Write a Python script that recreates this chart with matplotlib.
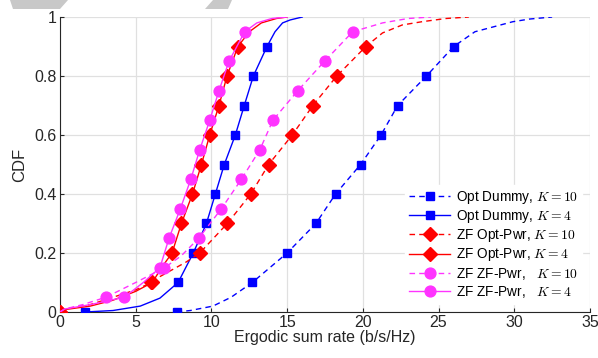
import numpy as np
import matplotlib
matplotlib.use("Agg")
import matplotlib.pyplot as plt
from matplotlib.patches import Polygon

plt.rcParams["font.family"] = ["Liberation Sans", "DejaVu Sans"]
plt.rcParams["mathtext.fontset"] = "cm"

dummy10_x = [7.7, 8.6, 10.1, 11.3, 12.7, 15.0, 16.9, 18.2, 19.85, 21.2, 22.3, 24.2, 26.0, 27.4, 29.9, 31.0, 32.5]
dummy10_y = [0.0, 0.005, 0.02, 0.05, 0.1, 0.2, 0.3, 0.4, 0.5, 0.6, 0.7, 0.8, 0.9, 0.95, 0.984, 0.993, 1.0]

dummy4_x = [1.65, 3.5, 5.3, 6.6, 7.8, 8.8, 9.67, 10.26, 10.85, 11.58, 12.17, 12.77, 13.67, 14.2, 14.7, 15.2, 16.0]
dummy4_y = [0.0, 0.005, 0.02, 0.047, 0.1, 0.2, 0.3, 0.4, 0.5, 0.6, 0.7, 0.8, 0.9, 0.95, 0.98, 0.99, 1.0]

optpwr10_x = [0.0, 0.3, 2.0, 3.5, 5.0, 6.04, 6.6, 8.35, 9.23, 11.05, 12.6, 13.78, 15.34, 16.7, 18.28, 20.2, 21.3, 22.6, 23.9, 25.5, 27.0]
optpwr10_y = [0.0, 0.01, 0.025, 0.05, 0.075, 0.1, 0.12, 0.17, 0.2, 0.3, 0.4, 0.5, 0.6, 0.7, 0.8, 0.9, 0.946, 0.973, 0.984, 0.995, 1.0]

optpwr4_x = [0.0, 0.3, 2.0, 3.5, 5.0, 6.1, 6.7, 7.4, 8.02, 8.75, 9.34, 9.89, 10.5, 11.03, 11.75, 12.5, 13.3, 14.3, 15.0]
optpwr4_y = [0.0, 0.008, 0.02, 0.04, 0.07, 0.1, 0.15, 0.2, 0.3, 0.4, 0.5, 0.6, 0.7, 0.8, 0.9, 0.95, 0.98, 0.995, 1.0]

zfpwr10_x = [0.0, 0.3, 1.5, 3.03, 5.0, 6.9, 8.0, 9.16, 10.66, 11.98, 13.2, 14.06, 15.7, 17.47, 19.33, 21.3, 23.0, 24.5]
zfpwr10_y = [0.0, 0.01, 0.025, 0.05, 0.1, 0.15, 0.19, 0.25, 0.35, 0.45, 0.55, 0.65, 0.75, 0.85, 0.95, 0.98, 0.995, 1.0]

zfpwr4_x = [0.0, 0.3, 2.0, 4.24, 5.5, 6.6, 7.2, 7.95, 8.64, 9.23, 9.89, 10.5, 11.16, 12.2, 13.0, 14.0, 15.0]
zfpwr4_y = [0.0, 0.01, 0.025, 0.05, 0.1, 0.15, 0.25, 0.35, 0.45, 0.55, 0.65, 0.75, 0.85, 0.95, 0.98, 0.995, 1.0]

marks_a = [0.0, 0.1, 0.2, 0.3, 0.4, 0.5, 0.6, 0.7, 0.8, 0.9]          # Opt / ZF Opt-Pwr markers
marks_b = [0.05, 0.15, 0.25, 0.35, 0.45, 0.55, 0.65, 0.75, 0.85, 0.95]  # ZF ZF-Pwr markers

BLUE, RED, MAG = "#0000ff", "#ff0000", "#ff33ff"
TXT = "#262626"


def idx(ys, levels):
    ys = np.asarray(ys)
    return [int(i) for i in np.where(np.isclose(ys[:, None], levels).any(axis=1))[0]]


fig = plt.figure(figsize=(5.98, 3.58), dpi=100)
ax = fig.add_axes([0.1003, 0.1285, 0.8863, 0.824])

series = [
    (dummy10_x, dummy10_y, BLUE, "--", "s", 6.3, marks_a, r"Opt Dummy, $K=10$"),
    (dummy4_x, dummy4_y, BLUE, "-", "s", 6.3, marks_a, r"Opt Dummy, $K=4$"),
    (optpwr10_x, optpwr10_y, RED, "--", "D", 6.8, marks_a, r"ZF Opt-Pwr, $K=10$"),
    (optpwr4_x, optpwr4_y, RED, "-", "D", 6.8, marks_a, r"ZF Opt-Pwr, $K=4$"),
    (zfpwr10_x, zfpwr10_y, MAG, "--", "o", 7.8, marks_b, r"ZF ZF-Pwr,   $K=10$"),
    (zfpwr4_x, zfpwr4_y, MAG, "-", "o", 7.8, marks_b, r"ZF ZF-Pwr,   $K=4$"),
]
for xs, ys, c, ls, m, ms, lev, lab in series:
    line, = ax.plot(xs, ys, color=c, linestyle=ls, linewidth=1.0, marker=m,
                    markersize=ms, markerfacecolor=c, markeredgecolor=c,
                    markevery=idx(ys, lev), label=lab, zorder=3)
    if ls == "--":
        line.set_dashes((4, 3))

ax.set_xlim(0, 35)
ax.set_ylim(0, 1)
ax.set_xticks(np.arange(0, 36, 5))
ax.set_yticks([0, 0.2, 0.4, 0.6, 0.8, 1])
ax.set_yticklabels(["0", "0.2", "0.4", "0.6", "0.8", "1"])
ax.grid(True, color="#e0e0e0", linewidth=0.9)
ax.set_axisbelow(True)
ax.tick_params(direction="in", labelsize=11.5, colors=TXT, length=3, pad=2.5)
for s in ("top", "right"):
    ax.spines[s].set_visible(False)
for s in ("left", "bottom"):
    ax.spines[s].set_color(TXT)
ax.set_xlabel("Ergodic sum rate (b/s/Hz)", fontsize=11.5, color=TXT, labelpad=0)
ax.set_ylabel("CDF", fontsize=12, color=TXT, labelpad=5)

leg = ax.legend(loc="lower right", fontsize=9.8, handlelength=3.0, labelspacing=0.16,
                borderaxespad=0.6, handletextpad=0.4, borderpad=0.3,
                frameon=True, fancybox=False)
leg.get_frame().set_edgecolor("white")
leg.get_frame().set_alpha(1)

# grey fragments at the very top of the image
for pts in ([(10, 0), (68, 0), (60, 9), (13, 9)], [(213, 0), (232, 0), (228, 9), (205, 9)]):
    fig.patches.append(Polygon([(x / 598, 1 - y / 358) for x, y in pts], closed=True,
                               transform=fig.transFigure, facecolor="#c8c8c8",
                               edgecolor="none"))

fig.savefig("out.png", dpi=100)
